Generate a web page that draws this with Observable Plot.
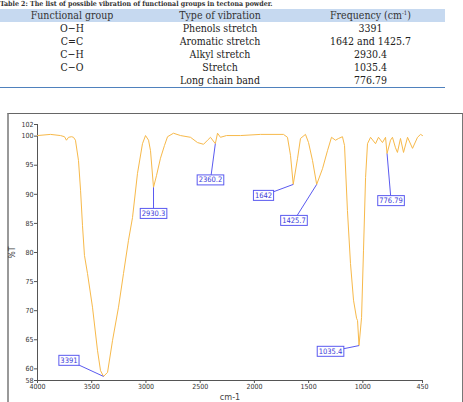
<!DOCTYPE html>
<html>
<head>
<meta charset="utf-8">
<script src="https://cdn.jsdelivr.net/npm/d3@7"></script>
<script src="https://cdn.jsdelivr.net/npm/@observablehq/plot@0.6"></script>
<style>
  body { margin: 0; width: 463px; height: 402px; overflow: hidden; background: #fff; position: relative; }
  #caption { position: absolute; left: 0; top: 0; font: bold 7px/8px "DejaVu Serif Condensed", "Liberation Serif", serif; color: #333; white-space: nowrap; }
  #groups { position: absolute; left: 0; top: 9px; width: 445px; border-collapse: collapse; font: 10.5px "DejaVu Serif Condensed", "Liberation Serif", serif; color: #222; border-bottom: 1.5px solid #4f81bd; }
  #groups th { background: #c6d9f0; font-weight: normal; height: 13px; padding: 0; line-height: 13px; color: #333; }
  #groups td { height: 13px; padding: 0; line-height: 13px; text-align: center; }
  #groups sup { font-size: 6px; vertical-align: 4px; line-height: 0; }
  #chart { position: absolute; left: 0; top: 95px; }
  #box { position: absolute; left: 7px; top: 113px; width: 453px; height: 300px; border-top: 1px solid #666; border-right: 1px solid #777; border-left: 2px solid #999; }
</style>
</head>
<body>
<div id="caption">Table 2: The list of possible vibration of functional groups in tectona powder.</div>
<table id="groups">
  <colgroup><col style="width:144px"><col style="width:152px"><col style="width:149px"></colgroup>
  <thead><tr><th>Functional group</th><th>Type of vibration</th><th>Frequency (cm<sup>-1</sup>)</th></tr></thead>
  <tbody></tbody>
</table>
<div id="box"></div>
<div id="chart"></div>
<script>
// Table of functional groups
const groupNames = ["O\u2212H", "C=C", "C\u2212H", "C\u2212O", ""];
const vibrationTypes = ["Phenols stretch", "Aromatic stretch", "Alkyl stretch", "Stretch", "Long chain band"];
const frequencies = ["3391", "1642 and 1425.7", "2930.4", "1035.4", "776.79"];

// FTIR spectrum: wavenumber (cm-1) and transmittance (%T)
const wavenumber = [4000, 3880, 3788, 3751, 3733, 3714, 3686, 3668, 3650, 3622, 3603, 3585, 3567, 3539, 3493, 3447, 3419, 3391,
  3354, 3308, 3253, 3207, 3161, 3124, 3078, 3032, 3004, 2976, 2958, 2930.3, 2903, 2866, 2829, 2801, 2746, 2681, 2589, 2525,
  2469, 2432, 2405, 2360.2, 2340, 2313, 2257, 2128, 1944, 1732, 1695, 1667, 1642, 1602, 1575, 1529, 1501, 1464, 1425.7,
  1372, 1326, 1289, 1252, 1224, 1188, 1169, 1142, 1114, 1086, 1058, 1049, 1035.4, 1012, 994, 975, 957, 929, 883, 856, 819,
  791, 776.79, 745, 727, 699, 681, 653, 625, 588, 542, 496, 468, 450];
const transmittance = [100.1, 100.3, 100.1, 99.9, 99.3, 99.8, 99.9, 99.8, 99.3, 95.8, 90.7, 84.6, 79.5, 76.4, 70.6, 63.2, 59.7, 58.7,
  59.4, 64.9, 70.6, 76.4, 82.1, 86.0, 93.6, 98.7, 100.1, 99.3, 97.5, 91.2, 93.2, 96.2, 98.4, 99.9, 100.5, 100.1, 99.8, 98.9,
  98.6, 99.3, 99.8, 98.7, 100.5, 99.8, 100.1, 100.1, 100.3, 100.3, 99.8, 96.7, 91.7, 96.2, 99.6, 100.3, 98.9, 95.8, 91.7,
  94.4, 97.5, 99.8, 99.3, 99.6, 99.9, 98.4, 87.2, 78.1, 71.8, 68.7, 68.3, 64.0, 68.8, 80.4, 92.9, 98.7, 99.8, 98.7, 99.8, 98.9,
  99.8, 97.0, 99.3, 99.8, 98.0, 97.2, 99.6, 97.2, 99.8, 97.9, 99.8, 100.3, 100.1];

// Peak annotations: label, peak position, and where the tag sits (data units)
const peakLabels = ["3391", "2930.3", "2360.2", "1642", "1425.7", "1035.4", "776.79"];
const peakWavenumber = [3391, 2930.3, 2360.2, 1642, 1425.7, 1035.4, 776.79];
const peakTransmittance = [58.7, 91.2, 98.7, 91.7, 91.7, 64.0, 97.0];
const tagWavenumber = [3710, 2930, 2405, 1916, 1635, 1298, 740];
const tagTransmittance = [61.45, 86.7, 92.46, 89.8, 85.5, 63.0, 88.9];

// Axis ticks
const xTicks = [4000, 3500, 3000, 2500, 2000, 1500, 1000, 450];
const yTicks = [58, 60, 65, 70, 75, 80, 85, 90, 95, 100, 102];

const tbody = document.querySelector("#groups tbody");
groupNames.forEach((g, i) => {
  const tr = document.createElement("tr");
  [g, vibrationTypes[i], frequencies[i]].forEach(v => {
    const td = document.createElement("td");
    td.textContent = v;
    tr.appendChild(td);
  });
  tbody.appendChild(tr);
});

const spectrum = wavenumber.map((w, i) => ({wn: w, t: transmittance[i]}));
const peaks = peakLabels.map((label, i) => ({
  label, wn: peakWavenumber[i], t: peakTransmittance[i], lx: tagWavenumber[i], ly: tagTransmittance[i]
}));

const axisColor = "#555";
const tagColor = "#5a5af0";

const chart = Plot.plot({
  width: 463,
  height: 307,
  marginLeft: 37,
  marginRight: 41,
  marginTop: 29,
  marginBottom: 22,
  style: {fontFamily: "'Liberation Sans Narrow', 'DejaVu Sans Condensed', sans-serif", fontSize: "7px", color: "#333", background: "transparent"},
  x: {domain: [4000, 450], ticks: xTicks, tickFormat: d => String(d)},
  y: {domain: [58, 102], ticks: yTicks, tickFormat: d => String(d)},
  marks: [
    Plot.axisX({ticks: xTicks, tickSize: 3, tickPadding: 1, tickFormat: d => String(d), label: null, stroke: axisColor, fill: "#333", fontSize: 7}),
    Plot.axisY({ticks: yTicks, tickSize: 3, tickPadding: 1, tickFormat: d => String(d), label: null, stroke: axisColor, fill: "#333", fontSize: 7}),
    Plot.ruleY([58], {stroke: axisColor}),
    Plot.ruleX([4000], {stroke: axisColor}),
    Plot.line(spectrum, {x: "wn", y: "t", stroke: "#f7b94a", strokeWidth: 1, curve: "linear"}),
    Plot.link(peaks, {x1: "wn", y1: "t", x2: "lx", y2: "ly", stroke: tagColor, strokeWidth: 1}),
    Plot.text(peaks, {x: "lx", y: "ly", text: "label", fill: "#3b3bd8", fontSize: 7.5, className: "peak-tag"}),
    Plot.text(["%T"], {frameAnchor: "left", dx: -25, dy: 6, rotate: -90, fontSize: 8.5, fill: "#444"}),
    Plot.text(["cm-1"], {frameAnchor: "bottom", dy: 19, fontSize: 9, fill: "#444"})
  ]
});

document.getElementById("chart").appendChild(chart);

// White boxes with blue outlines behind the peak tags
d3.select(chart).selectAll("g.peak-tag text").each(function () {
  const b = this.getBBox();
  const parent = this.parentNode;
  const transform = this.getAttribute("transform");
  const rect = document.createElementNS("http://www.w3.org/2000/svg", "rect");
  rect.setAttribute("x", b.x - 1.5);
  rect.setAttribute("y", b.y - 0.5);
  rect.setAttribute("width", b.width + 3);
  rect.setAttribute("height", b.height + 1);
  rect.setAttribute("fill", "#fff");
  rect.setAttribute("stroke", tagColor);
  rect.setAttribute("stroke-width", "1");
  if (transform) rect.setAttribute("transform", transform);
  parent.insertBefore(rect, this);
});
</script>
</body>
</html>
